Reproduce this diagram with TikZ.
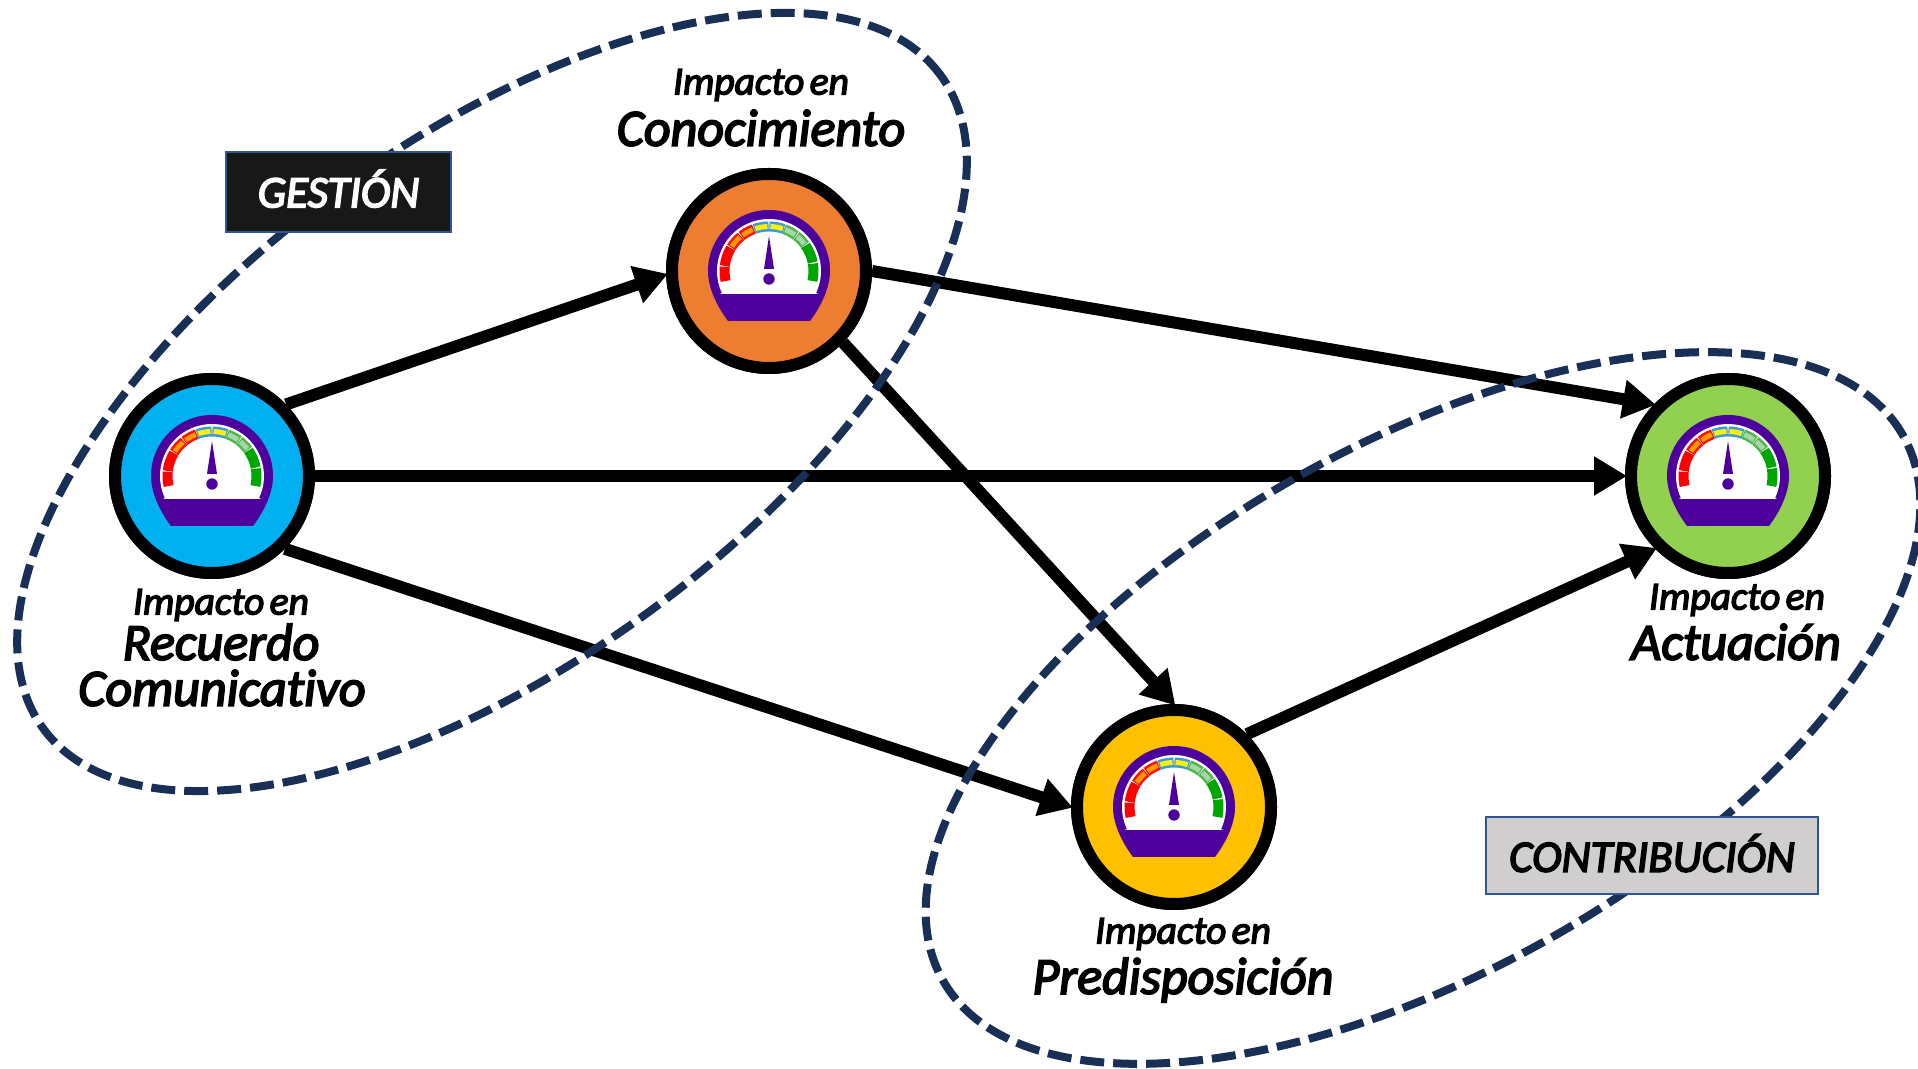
\documentclass[tikz,border=0pt]{standalone}
\usepackage{fontspec}
\setmainfont{Carlito}
\newfontfamily\labf{Carlito Italic}[FakeBold=3.5,Ligatures=NoCommon,WordSpace=0.6]
\usetikzlibrary{arrows.meta}
\definecolor{navy}{HTML}{1A2F55}
\definecolor{gaugepurple}{HTML}{4D009B}
\definecolor{boxblue}{HTML}{2F5597}
\tikzset{
  metric/.style={circle,draw=black,line width=12pt,minimum size=194pt,inner sep=0pt},
  link/.style={line width=12pt,-{Triangle[length=33pt,width=37pt]},shorten >=-2pt},
  group/.style={draw=navy,line width=8pt,dash pattern=on 24pt off 9pt},
  small/.style={font=\labf\fontsize{39.5}{39.5}\selectfont,inner sep=0pt,text=black},
  big/.style={font=\labf\fontsize{52}{52}\selectfont,inner sep=0pt,text=black},
  tag/.style={draw=boxblue,line width=2.5pt,inner sep=0pt,font=\labf\fontsize{45}{45}\selectfont}
}
\newcommand{\seg}[4]{% from, to, outer, inner
  \draw[#3,line width=10pt] (#1:44.5) arc[start angle=#1,end angle=#2,radius=44.5];
  \draw[#4,line width=5pt] (#1-1.5:44.5) arc[start angle=#1-1.5,end angle=#2+1.5,radius=44.5];
}
\newcommand{\gauge}[1]{%
  \begin{scope}[shift={(#1)},x=1pt,y=1pt]
    \fill[gaugepurple] (-41,-50) .. controls (-53,-34) and (-61,-16) .. (-61,0)
      arc[start angle=180,end angle=0,radius=61]
      .. controls (61,-16) and (53,-34) .. (41,-50) -- cycle;
    \fill[white] (-49,-23) -- (49,-23) -- (47.1,-22)
      arc[start angle=-25,end angle=205,radius=52] -- cycle;
    \seg{193}{174.5}{red}{red}
    \seg{173.5}{149}{red}{red}
    \seg{148}{129}{red!90!orange}{orange!80!yellow}
    \seg{128}{110}{red!90!orange}{orange!80!yellow}
    \seg{109.5}{90.5}{cyan!70!blue!80!white}{yellow}
    \seg{89.5}{70.5}{cyan!70!blue!80!white}{yellow}
    \seg{70}{53}{green!60!black!70!white}{green!35!gray!50!white}
    \seg{52}{36}{green!60!black!70!white}{green!35!gray!50!white}
    \seg{35}{11}{green!65!black}{green!65!black}
    \seg{9.5}{-13}{green!65!black}{green!65!black}
    \fill[gaugepurple] (0,35) -- (5,2) -- (-5,2) -- cycle;
    \fill[gaugepurple] (0,-8) circle[radius=5.7];
  \end{scope}
}
\begin{document}
\begin{tikzpicture}[x=1pt,y=1pt]
\useasboundingbox (0,0) rectangle (1918,1068);
\clip (0,0) rectangle (1918,1068);
\fill[white] (0,0) rectangle (1918,1068);
\node[metric,fill={rgb,255:red,0;green,176;blue,240}] (recuerdo) at (212,592) {};
\node[metric,fill={rgb,255:red,237;green,125;blue,49}] (conoc) at (769,797) {};
\node[metric,fill={rgb,255:red,146;green,208;blue,80}] (actua) at (1728,592) {};
\node[metric,fill={rgb,255:red,255;green,192;blue,0}] (predis) at (1174,261) {};
\draw[link] (recuerdo.44) -- (conoc.182);
\draw[link] (recuerdo.0) -- (actua.180);
\draw[link] (recuerdo.-45) -- (predis.180);
\draw[link] (conoc.0) -- (actua.136);
\draw[link] (conoc.-44) -- (predis.90);
\draw[link] (predis.45) -- (actua.-135);
\draw[group,rotate around={36:(492,666)}] (492,666) ellipse[x radius=555,y radius=262];
\draw[group,rotate around={29.6:(1423,360)}] (1423,360) ellipse[x radius=552,y radius=263];
\node[metric,fill={rgb,255:red,0;green,176;blue,240}] at (recuerdo) {};
\node[metric,fill={rgb,255:red,237;green,125;blue,49}] at (conoc) {};
\node[metric,fill={rgb,255:red,146;green,208;blue,80}] at (actua) {};
\node[metric,fill={rgb,255:red,255;green,192;blue,0}] at (predis) {};
\gauge{recuerdo}\gauge{conoc}\gauge{actua}\gauge{predis}
\node[tag,fill={rgb,255:red,24;green,24;blue,24},text=white,minimum width=225pt,minimum height=80pt] (gest) at (338.5,876) {\raisebox{7pt}{GESTIÓN}};
\node[tag,fill={rgb,255:red,208;green,206;blue,206},text=black,minimum width=332pt,minimum height=77pt] (contr) at (1652,212.5) {\raisebox{5pt}{CONTRIBUCIÓN}};
\node[small] (l1) at (761,983) {Impacto en};
\node[big] (l2) at (761,940) {Conocimiento};
\node[small] (l3) at (221,463) {Impacto en};
\node[big] (l4) at (221,426) {Recuerdo};
\node[big] (l5) at (222,380) {Comunicativo};
\node[small] (l6) at (1737,468) {Impacto en};
\node[big] (l7) at (1736,426) {Actuación};
\node[small] (l8) at (1183,134) {Impacto en};
\node[big] (l9) at (1183,88) {Predisposición};
\end{tikzpicture}
\end{document}
